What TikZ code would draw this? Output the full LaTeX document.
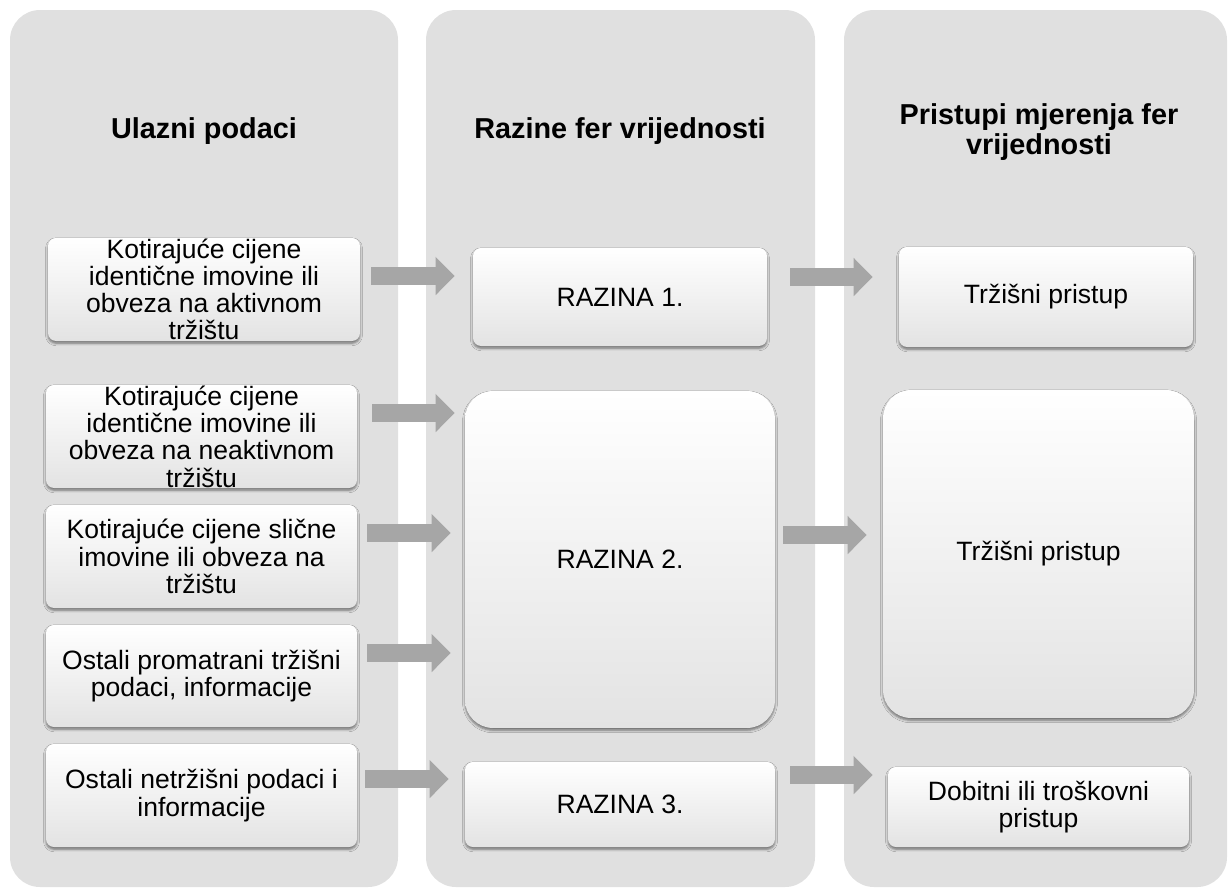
\documentclass[tikz,border=0pt]{standalone}
\usepackage{fontspec}
\setmainfont{Liberation Sans}
\usepackage{tikz}
\usetikzlibrary{calc}
\usetikzlibrary{arrows.meta}
\usetikzlibrary{shadows.blur}
\definecolor{panelgray}{HTML}{E0E0E0}
\definecolor{arrgray}{HTML}{A6A6A6}
\tikzset{>=latex}
\tikzset{
  panel/.style={fill=panelgray, rounded corners=0.6cm},
  coltitle/.style={align=center, font=\fontsize{16.4}{17.5}\selectfont\bfseries},
  boxtxt/.style={align=center, inner sep=0pt, font=\fontsize{15.1}{15.5}\selectfont},
  whitebox/.style={inner sep=0pt, rounded corners=0.16cm,
    top color=white, middle color=white, bottom color=black!11,
    blur shadow={shadow xshift=0pt, shadow yshift=-1.3pt, shadow blur radius=1.4pt, shadow opacity=50}},
  bigbox/.style={whitebox, rounded corners=0.56cm},
  blockarr/.style={draw=arrgray, line width=0.36cm,
    -{Triangle[length=0.38cm, width=0.74cm]}},
}

\begin{document}
\begin{tikzpicture}[x=0.02cm, y=-0.02cm]
      \useasboundingbox (0,0) rectangle (1229,887);
      % three columns
      \fill[panel] (10,10) rectangle (398,887);
      \fill[panel] (426,10) rectangle (815,887);
      \fill[panel] (844,10) rectangle (1227,887);
	  \node[coltitle] (tIn) at (204,131) {Ulazni podaci};
	  \node[coltitle] (tLv) at (620,131) {Razine fer vrijednosti};
	  \node[coltitle] (tMk) at (1039,132) {Pristupi mjerenja fer\\vrijednosti};

      % ulazni podaci
      \node[whitebox, minimum width=6.24cm, minimum height=2.06cm,
        label={[boxtxt]center:Kotirajuće cijene\\identične imovine ili\\obveza na aktivnom\\tržištu}] (inA) at (204,289.5) {};
      \node[whitebox, minimum width=6.22cm, minimum height=2.06cm,
        label={[boxtxt]center:Kotirajuće cijene\\identične imovine ili\\obveza na neaktivnom\\tržištu}] (inB) at (201.5,436.5) {};
      \node[whitebox, minimum width=6.22cm, minimum height=2.06cm,
        label={[boxtxt]center:Kotirajuće cijene slične\\imovine ili obveza na\\tržištu}] (inC) at (201.5,556.5) {};
      \node[whitebox, minimum width=6.22cm, minimum height=2.04cm,
        label={[boxtxt]center:{Ostali promatrani tržišni\\podaci, informacije}}] (inD) at (201.5,676) {};
      \node[whitebox, minimum width=6.22cm, minimum height=2.06cm,
        label={[boxtxt]center:Ostali netržišni podaci i\\informacije}] (inE) at (201.5,795.5) {};

      % razine
      \node[whitebox, minimum width=5.88cm, minimum height=1.96cm,
        label={[boxtxt]center:RAZINA 1.}] (lv1) at (620,297) {};
      \node[bigbox, minimum width=6.2cm, minimum height=6.74cm,
        label={[boxtxt]center:RAZINA 2.}] (lv2) at (620,559.5) {};
      \node[whitebox, minimum width=6.2cm, minimum height=1.7cm,
        label={[boxtxt]center:RAZINA 3.}] (lv3) at (620,804.5) {};

      % pristupi
      \node[whitebox, minimum width=5.88cm, minimum height=2cm,
        label={[boxtxt]center:Tržišni pristup}] (mk1) at (1046,297) {};
      \node[bigbox, minimum width=6.22cm, minimum height=6.56cm,
        label={[boxtxt]center:Tržišni pristup}] (mk2) at (1038.5,554) {};
      \node[whitebox, minimum width=6.02cm, minimum height=1.6cm,
        label={[boxtxt]center:Dobitni ili troškovni\\pristup}] (dob) at (1038.5,807) {};

      % strelice
      \draw[blockarr] ($(inA.east)+(11,-13.5)$) -- ($(inA.east -| lv1.west)+(-18,-13.5)$);
      \draw[blockarr] ($(inB.east)+(15,-23.5)$) -- ($(inB.east -| lv2.west)+(-10,-23.5)$);
      \draw[blockarr] ($(inC.east)+(10,-23.5)$) -- ($(inC.east -| lv2.west)+(-14,-23.5)$);
      \draw[blockarr] ($(inD.east)+(10,-23)$) -- ($(inD.east -| lv2.west)+(-14,-23)$);
      \draw[blockarr] ($(inE.east)+(8,-16.5)$) -- ($(inE.east -| lv3.west)+(-16,-16.5)$);
      \draw[blockarr] ($(lv1.east)+(23,-20)$) -- ($(lv1.east -| mk1.west)+(-26,-20)$);
      \draw[blockarr] ($(lv2.east)+(8,-24.5)$) -- ($(lv2.east -| mk2.west)+(-16,-24.5)$);
      \draw[blockarr] ($(lv3.east)+(15,-29.5)$) -- ($(lv3.east -| dob.west)+(-15,-29.5)$);
\end{tikzpicture}
\end{document}
